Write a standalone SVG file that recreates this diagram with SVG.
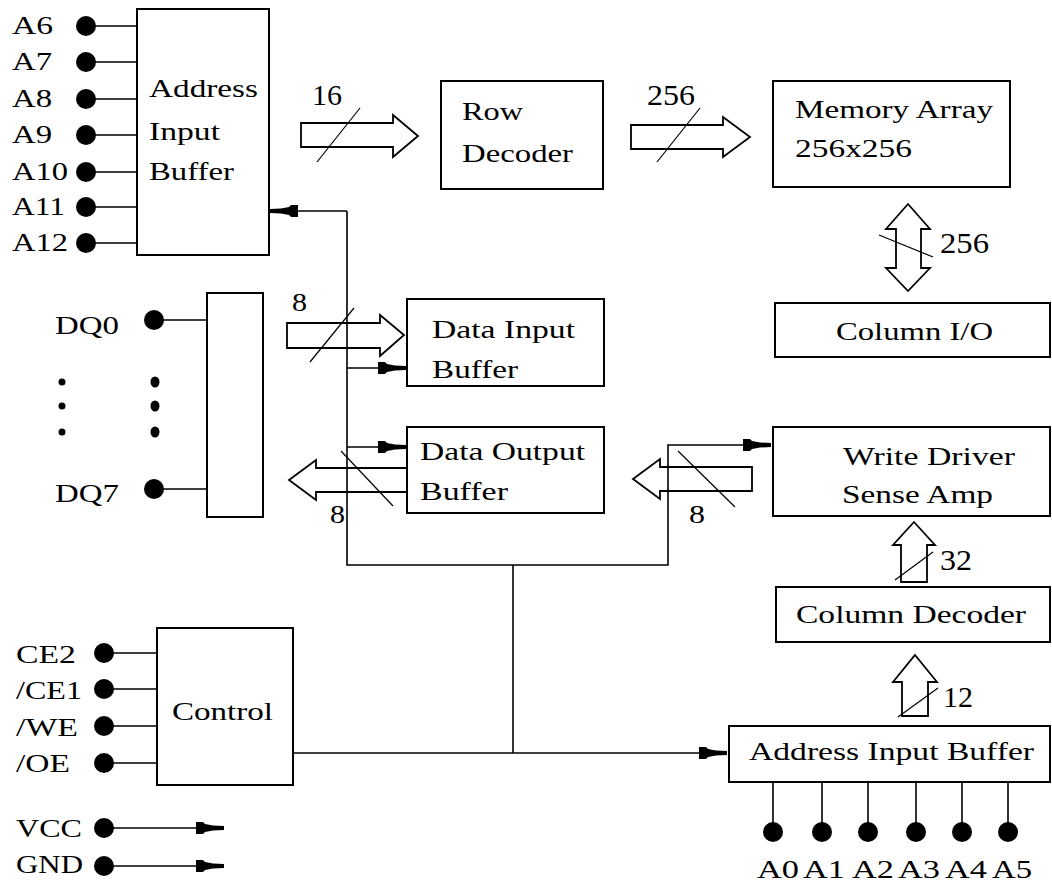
<svg xmlns="http://www.w3.org/2000/svg" width="1052" height="882" viewBox="0 0 1052 882">
<style>
.box{fill:none;stroke:#000;stroke-width:2}
.ln{fill:none;stroke:#000;stroke-width:1.6}
.bus{fill:none;stroke:#000;stroke-width:1.8;stroke-linejoin:miter}
.sl{stroke:#000;stroke-width:1.2}
.t{font-family:"Liberation Serif","Times New Roman",serif;font-size:26px;fill:#000}
.n{font-size:29px}
.dot{fill:#000}
</style>
<defs>
<marker id="tip" viewBox="-31 -7 32 14" refX="0" refY="0" markerWidth="32" markerHeight="14" markerUnits="userSpaceOnUse" orient="auto">
<path d="M-28,-6 L-21,-6 L-19,-4 L-11,-2.5 L0,-2 L0,2 L-11,2.5 L-19,4 L-21,6 L-28,6 Z" fill="#000"/>
</marker>
</defs>
<rect width="1052" height="882" fill="#fff"/>

<g id="connectors">
  <path class="ln" d="M86,26H137M86,62H137M86,99H137M86,135H137M86,172H137M86,207H137M86,243H137"/>
  <path class="ln" d="M154,320H207M154,489H207"/>
  <path class="ln" d="M104,653H157M104,689H157M104,726H157M104,763H157"/>
  <path class="ln" d="M773,782V832M822,782V832M868,782V832M916,782V832M962,782V832M1008,782V832"/>
  <path class="ln" d="M347,211V565H668V445H771" marker-end="url(#tip)"/>
  <path class="ln" d="M347,211H270" marker-end="url(#tip)"/>
  <path class="ln" d="M347,368H406" marker-end="url(#tip)"/>
  <path class="ln" d="M347,447H406" marker-end="url(#tip)"/>
  <path class="ln" d="M513,565V753"/>
  <path class="ln" d="M293,753H727" marker-end="url(#tip)"/>
  <path class="ln" d="M104,828H224" marker-end="url(#tip)"/>
  <path class="ln" d="M104,866H224" marker-end="url(#tip)"/>

  <polygon class="bus" points="301,123 393,123 393,115 418,136 393,157 393,147 301,147"/>
  <line class="sl" x1="317" y1="162" x2="360" y2="108"/>
  <text class="t n" x="312" y="105" textLength="30" lengthAdjust="spacingAndGlyphs">16</text>

  <polygon class="bus" points="631,125 723,125 723,117 750,137 723,157 723,149 631,149"/>
  <line class="sl" x1="657" y1="162" x2="700" y2="108"/>
  <text class="t n" x="647" y="105" textLength="48" lengthAdjust="spacingAndGlyphs">256</text>

  <polygon class="bus" points="908,204 930,229 921,229 921,268 930,268 908,291 886,268 896,268 896,229 886,229"/>
  <line class="sl" x1="879" y1="235" x2="933" y2="257"/>
  <text class="t n" x="940" y="253" textLength="49" lengthAdjust="spacingAndGlyphs">256</text>

  <polygon class="bus" points="287,323 380,323 380,315 404,335 380,356 380,348 287,348"/>
  <line class="sl" x1="310" y1="362" x2="354" y2="308"/>
  <text class="t" x="292" y="311" textLength="15" lengthAdjust="spacingAndGlyphs">8</text>

  <polyline class="bus" points="407,468 316,468 316,460 289,480 316,500 316,492 407,492"/>
  <line class="sl" x1="341" y1="451" x2="393" y2="506"/>
  <text class="t" x="330" y="523" textLength="15" lengthAdjust="spacingAndGlyphs">8</text>

  <polygon class="bus" points="752,467 660,467 660,459 633,479 660,499 660,491 752,491"/>
  <line class="sl" x1="678" y1="451" x2="735" y2="507"/>
  <text class="t" x="689" y="523" textLength="16" lengthAdjust="spacingAndGlyphs">8</text>

  <polygon class="bus" points="914,522 935,545 927,545 927,582 901,582 901,545 893,545"/>
  <line class="sl" x1="895" y1="580" x2="933" y2="552"/>
  <text class="t n" x="940" y="570" textLength="32" lengthAdjust="spacingAndGlyphs">32</text>

  <polygon class="bus" points="915,655 937,682 928,682 928,716 902,716 902,682 893,682"/>
  <line class="sl" x1="898" y1="717" x2="938" y2="688"/>
  <text class="t n" x="943" y="707" textLength="30" lengthAdjust="spacingAndGlyphs">12</text>
</g>

<g id="pins-a6-a12">
  <circle class="dot" cx="86" cy="26" r="10"/>
  <circle class="dot" cx="86" cy="62" r="10"/>
  <circle class="dot" cx="86" cy="99" r="10"/>
  <circle class="dot" cx="86" cy="135" r="10"/>
  <circle class="dot" cx="86" cy="172" r="10"/>
  <circle class="dot" cx="86" cy="207" r="10"/>
  <circle class="dot" cx="86" cy="243" r="10"/>
  <text class="t" x="12" y="34" textLength="41" lengthAdjust="spacingAndGlyphs">A6</text>
  <text class="t" x="12" y="70" textLength="40" lengthAdjust="spacingAndGlyphs">A7</text>
  <text class="t" x="12" y="107" textLength="40" lengthAdjust="spacingAndGlyphs">A8</text>
  <text class="t" x="12" y="143" textLength="40" lengthAdjust="spacingAndGlyphs">A9</text>
  <text class="t" x="12" y="180" textLength="56" lengthAdjust="spacingAndGlyphs">A10</text>
  <text class="t" x="12" y="215" textLength="53" lengthAdjust="spacingAndGlyphs">A11</text>
  <text class="t" x="12" y="251" textLength="56" lengthAdjust="spacingAndGlyphs">A12</text>
</g>

<g id="addr-buf-top">
  <rect class="box" x="137" y="9" width="132" height="246"/>
  <text class="t" x="149" y="97" textLength="109" lengthAdjust="spacingAndGlyphs">Address</text>
  <text class="t" x="149" y="140" textLength="71" lengthAdjust="spacingAndGlyphs">Input</text>
  <text class="t" x="149" y="180" textLength="85" lengthAdjust="spacingAndGlyphs">Buffer</text>
</g>

<g id="row-decoder">
  <rect class="box" x="441" y="81" width="162" height="108"/>
  <text class="t" x="462" y="120" textLength="61" lengthAdjust="spacingAndGlyphs">Row</text>
  <text class="t" x="462" y="162" textLength="111" lengthAdjust="spacingAndGlyphs">Decoder</text>
</g>

<g id="memory-array">
  <rect class="box" x="773" y="81" width="237" height="106"/>
  <text class="t" x="795" y="118" textLength="198" lengthAdjust="spacingAndGlyphs">Memory Array</text>
  <text class="t" x="795" y="157" textLength="117" lengthAdjust="spacingAndGlyphs">256x256</text>
</g>

<g id="column-io">
  <rect class="box" x="775" y="303" width="275" height="54"/>
  <text class="t" x="836" y="340" textLength="157" lengthAdjust="spacingAndGlyphs">Column I/O</text>
</g>

<g id="pins-dq">
  <circle class="dot" cx="154" cy="320" r="10"/>
  <circle class="dot" cx="154" cy="489" r="10"/>
  <text class="t" x="55" y="334" textLength="64" lengthAdjust="spacingAndGlyphs">DQ0</text>
  <text class="t" x="55" y="502" textLength="64" lengthAdjust="spacingAndGlyphs">DQ7</text>
  <circle class="dot" cx="62" cy="382" r="3.5"/>
  <circle class="dot" cx="62" cy="406" r="3.5"/>
  <circle class="dot" cx="62" cy="432" r="3.5"/>
  <ellipse class="dot" cx="155" cy="382" rx="4.5" ry="5.5"/>
  <ellipse class="dot" cx="155" cy="406" rx="4.5" ry="5.5"/>
  <ellipse class="dot" cx="155" cy="432" rx="4.5" ry="5.5"/>
</g>

<g id="dq-mux">
  <rect class="box" x="207" y="293" width="56" height="224"/>
</g>

<g id="data-in-buf">
  <rect class="box" x="407" y="299" width="197" height="87"/>
  <text class="t" x="432" y="338" textLength="143" lengthAdjust="spacingAndGlyphs">Data Input</text>
  <text class="t" x="432" y="378" textLength="86" lengthAdjust="spacingAndGlyphs">Buffer</text>
</g>

<g id="data-out-buf">
  <rect class="box" x="407" y="427" width="197" height="86"/>
  <text class="t" x="420" y="460" textLength="165" lengthAdjust="spacingAndGlyphs">Data Output</text>
  <text class="t" x="420" y="500" textLength="88" lengthAdjust="spacingAndGlyphs">Buffer</text>
</g>

<g id="write-driver">
  <rect class="box" x="773" y="427" width="277" height="89"/>
  <text class="t" x="843" y="465" textLength="172" lengthAdjust="spacingAndGlyphs">Write Driver</text>
  <text class="t" x="842" y="503" textLength="151" lengthAdjust="spacingAndGlyphs">Sense Amp</text>
</g>

<g id="column-decoder">
  <rect class="box" x="776" y="587" width="274" height="55"/>
  <text class="t" x="796" y="623" textLength="230" lengthAdjust="spacingAndGlyphs">Column Decoder</text>
</g>

<g id="pins-control">
  <circle class="dot" cx="104" cy="653" r="10"/>
  <circle class="dot" cx="104" cy="689" r="10"/>
  <circle class="dot" cx="104" cy="726" r="10"/>
  <circle class="dot" cx="104" cy="763" r="10"/>
  <text class="t" x="16" y="663" textLength="60" lengthAdjust="spacingAndGlyphs">CE2</text>
  <text class="t" x="16" y="699" textLength="66" lengthAdjust="spacingAndGlyphs">/CE1</text>
  <text class="t" x="16" y="736" textLength="62" lengthAdjust="spacingAndGlyphs">/WE</text>
  <text class="t" x="16" y="772" textLength="54" lengthAdjust="spacingAndGlyphs">/OE</text>
</g>

<g id="control">
  <rect class="box" x="157" y="628" width="136" height="157"/>
  <text class="t" x="172" y="720" textLength="101" lengthAdjust="spacingAndGlyphs">Control</text>
</g>

<g id="pins-power">
  <circle class="dot" cx="104" cy="828" r="10"/>
  <circle class="dot" cx="104" cy="866" r="10"/>
  <text class="t" x="16" y="837" textLength="66" lengthAdjust="spacingAndGlyphs">VCC</text>
  <text class="t" x="16" y="873" textLength="67" lengthAdjust="spacingAndGlyphs">GND</text>
</g>

<g id="addr-buf-bottom">
  <rect class="box" x="729" y="726" width="321" height="56"/>
  <text class="t" x="749" y="760" textLength="285" lengthAdjust="spacingAndGlyphs">Address Input Buffer</text>
</g>

<g id="pins-a0-a5">
  <circle class="dot" cx="773" cy="832" r="10"/>
  <circle class="dot" cx="822" cy="832" r="10"/>
  <circle class="dot" cx="868" cy="832" r="10"/>
  <circle class="dot" cx="916" cy="832" r="10"/>
  <circle class="dot" cx="962" cy="832" r="10"/>
  <circle class="dot" cx="1008" cy="832" r="10"/>
  <text class="t" x="757" y="878" textLength="42" lengthAdjust="spacingAndGlyphs">A0</text>
  <text class="t" x="803" y="878" textLength="42" lengthAdjust="spacingAndGlyphs">A1</text>
  <text class="t" x="852" y="878" textLength="42" lengthAdjust="spacingAndGlyphs">A2</text>
  <text class="t" x="898" y="878" textLength="42" lengthAdjust="spacingAndGlyphs">A3</text>
  <text class="t" x="945" y="878" textLength="42" lengthAdjust="spacingAndGlyphs">A4</text>
  <text class="t" x="992" y="878" textLength="40" lengthAdjust="spacingAndGlyphs">A5</text>
</g>
</svg>
